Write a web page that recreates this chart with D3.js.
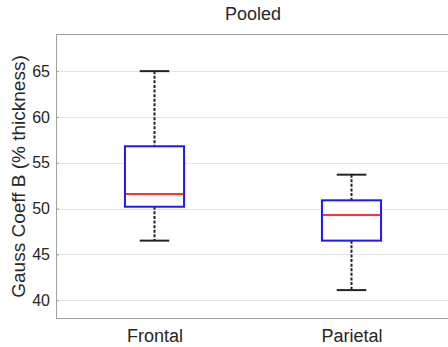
<!DOCTYPE html>
<html>
<head>
<meta charset="utf-8">
<script src="https://cdn.jsdelivr.net/npm/d3@7"></script>
<style>
  html, body { margin: 0; padding: 0; background: #fff; }
  svg { display: block; }
  text { font-family: "Liberation Sans", Arial, sans-serif; fill: #262626; }
</style>
</head>
<body>
<svg id="chart" width="448" height="347"></svg>
<script>
// Regions shown on the x axis
const categories = ["Frontal", "Parietal"];
// Five-number summaries per region
const whiskerLow  = [46.5, 41.1];
const quartile1   = [50.2, 46.5];
const medians     = [51.6, 49.3];
const quartile3   = [56.8, 50.9];
const whiskerHigh = [65.0, 53.7];
// Y tick values
const yTicks = [40, 45, 50, 55, 60, 65];

const svg = d3.select("#chart");
const plotLeft = 56, plotRight = 450, plotTop = 34.5, plotBottom = 318.5;

const x = d3.scaleLinear().domain([0.5, 2.5]).range([plotLeft, plotRight]);
const y = d3.scaleLinear().domain([38, 69]).range([plotBottom, plotTop]);

// Horizontal grid
svg.append("g")
  .selectAll("line")
  .data(yTicks)
  .join("line")
  .attr("x1", plotLeft).attr("x2", plotRight)
  .attr("y1", d => Math.round(y(d)) + 0.5)
  .attr("y2", d => Math.round(y(d)) + 0.5)
  .attr("stroke", "#e6e6e6")
  .attr("stroke-width", 1);

// Y axis with inward ticks
const yAxis = svg.append("g")
  .attr("transform", `translate(${plotLeft},0)`)
  .call(d3.axisLeft(y).tickValues(yTicks).tickSizeInner(-3).tickSizeOuter(0).tickPadding(6).tickFormat(d3.format("d")));
yAxis.select(".domain").remove();
yAxis.selectAll(".tick line").attr("stroke", "#999");
yAxis.selectAll(".tick text")
  .style("font-size", "16px")
  .attr("fill", "#262626")
  .attr("x", -6);

// Frame
svg.append("rect")
  .attr("x", plotLeft + 0.5).attr("y", plotTop)
  .attr("width", plotRight - plotLeft).attr("height", plotBottom - plotTop)
  .attr("fill", "none")
  .attr("stroke", "#a0a0a0")
  .attr("stroke-width", 1);

// X axis labels
const xAxis = svg.append("g")
  .attr("transform", `translate(0,${plotBottom})`)
  .call(d3.axisBottom(x).tickValues([1, 2]).tickSize(0).tickPadding(6).tickFormat((d, i) => categories[i]));
xAxis.select(".domain").remove();
xAxis.selectAll(".tick text")
  .style("font-size", "18px")
  .attr("fill", "#262626")
  .attr("dy", "0.95em");

// Box plots
const boxHalf = 0.15, capHalf = 0.075;
const boxes = svg.append("g")
  .selectAll("g")
  .data(categories.map((c, i) => ({
    pos: i + 1,
    lo: whiskerLow[i], q1: quartile1[i], med: medians[i], q3: quartile3[i], hi: whiskerHigh[i]
  })))
  .join("g");

// Dashed whiskers
boxes.append("line")
  .attr("x1", d => x(d.pos)).attr("x2", d => x(d.pos))
  .attr("y1", d => y(d.hi)).attr("y2", d => y(d.q3))
  .attr("stroke", "#222").attr("stroke-width", 2).attr("stroke-dasharray", "3,1.6");
boxes.append("line")
  .attr("x1", d => x(d.pos)).attr("x2", d => x(d.pos))
  .attr("y1", d => y(d.q1)).attr("y2", d => y(d.lo))
  .attr("stroke", "#222").attr("stroke-width", 2).attr("stroke-dasharray", "3,1.6");

// Whisker caps
boxes.append("line")
  .attr("x1", d => x(d.pos - capHalf)).attr("x2", d => x(d.pos + capHalf))
  .attr("y1", d => y(d.hi)).attr("y2", d => y(d.hi))
  .attr("stroke", "#222").attr("stroke-width", 2);
boxes.append("line")
  .attr("x1", d => x(d.pos - capHalf)).attr("x2", d => x(d.pos + capHalf))
  .attr("y1", d => y(d.lo)).attr("y2", d => y(d.lo))
  .attr("stroke", "#222").attr("stroke-width", 2);

// Interquartile box
boxes.append("rect")
  .attr("x", d => x(d.pos - boxHalf))
  .attr("y", d => y(d.q3))
  .attr("width", d => x(d.pos + boxHalf) - x(d.pos - boxHalf))
  .attr("height", d => y(d.q1) - y(d.q3))
  .attr("fill", "#fff")
  .attr("stroke", "#1a1aff")
  .attr("stroke-width", 2);

// Median
boxes.append("line")
  .attr("x1", d => x(d.pos - boxHalf) + 1).attr("x2", d => x(d.pos + boxHalf) - 1)
  .attr("y1", d => y(d.med)).attr("y2", d => y(d.med))
  .attr("stroke", "#ff3333").attr("stroke-width", 2);

// Title
svg.append("text")
  .attr("x", (plotLeft + plotRight) / 2).attr("y", 20)
  .attr("text-anchor", "middle")
  .style("font-size", "18px")
  .text("Pooled");

// Y axis title
svg.append("text")
  .attr("transform", `translate(25,${(plotTop + plotBottom) / 2}) rotate(-90)`)
  .attr("text-anchor", "middle")
  .style("font-size", "19px")
  .text("Gauss Coeff B (% thickness)");
</script>
</body>
</html>
